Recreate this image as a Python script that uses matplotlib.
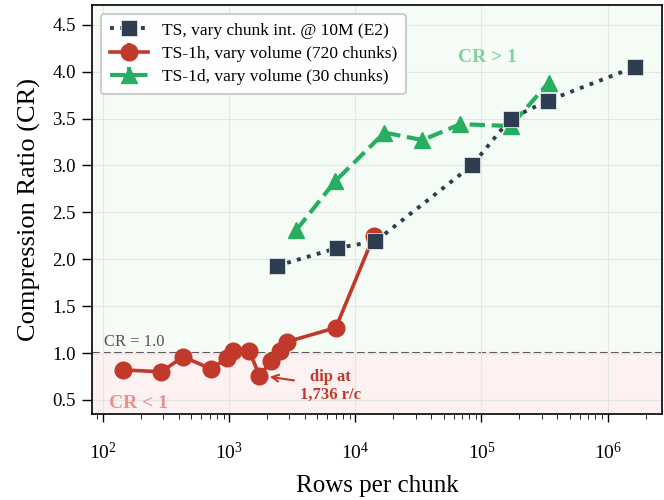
import matplotlib.pyplot as plt

plt.rcParams['font.family'] = 'Liberation Serif'
plt.rcParams['mathtext.fontset'] = 'stix'

# TS, varying chunk interval at 10M rows
ts_rows = [2400, 7200, 14400, 84000, 170000, 336000, 1650000]
ts_cr = [1.93, 2.12, 2.19, 3.00, 3.50, 3.69, 4.05]

# TS-1h, varying volume (720 chunks)
h_rows = [144, 288, 432, 720, 960, 1080, 1440, 1736, 2160, 2520, 2880, 7000, 14000]
h_cr = [0.82, 0.80, 0.96, 0.83, 0.95, 1.02, 1.02, 0.76, 0.91, 1.02, 1.12, 1.27, 2.25]
h_err = [0.01] * len(h_rows)

# TS-1d, varying volume (30 chunks)
d_rows = [3400, 6900, 17000, 34000, 68000, 170000, 340000]
d_cr = [2.31, 2.83, 3.35, 3.27, 3.44, 3.42, 3.88]
d_err = [0.01] * len(d_rows)

navy = '#2c3e50'
red = '#c0392b'
green = '#27ae60'

fig, ax = plt.subplots(figsize=(6.64, 5.0), dpi=100)
fig.subplots_adjust(left=0.139, right=0.997, top=0.99, bottom=0.172)

ax.set_xscale('log')
ax.set_xlim(82, 2.7e6)
ax.set_ylim(0.35, 4.71)

ax.axhspan(1.0, 4.71, color='#f1fbf1', alpha=0.7, zorder=0)
ax.axhspan(0.35, 1.0, color='#fce8e8', alpha=0.6, zorder=0)
ax.axhline(1.0, color='#555555', ls='--', lw=1.5, zorder=1)
ax.grid(True, which='major', color='#e3e6e3', lw=0.8, zorder=0)

ax.plot(ts_rows, ts_cr, ls=':', lw=2.8, color=navy, marker='s', ms=12,
        mec='#dfe3e6', mew=0.6, label='TS, vary chunk int. @ 10M (E2)', zorder=4)
ax.errorbar(h_rows, h_cr, yerr=h_err, ls='-', lw=2.6, color=red, marker='o', ms=12,
            capsize=0, label='TS-1h, vary volume (720 chunks)', zorder=3)
ax.errorbar(d_rows, d_cr, yerr=d_err, ls='--', lw=3.0, color=green, marker='^', ms=12,
            capsize=0, label='TS-1d, vary volume (30 chunks)', zorder=3)

ax.text(102, 1.03, 'CR = 1.0', color='#555555', fontsize=12, va='bottom', ha='left')
ax.text(6.5e4, 4.15, 'CR > 1', color='#7fd1a0', fontsize=14, fontweight='bold',
        ha='left', va='center')
ax.text(112, 0.46, 'CR < 1', color='#e89090', fontsize=14, fontweight='bold',
        ha='left', va='center')
ax.annotate('dip at\n1,736 r/c', xy=(1800, 0.76), xytext=(6300, 0.65),
            color=red, fontsize=12, fontweight='bold', ha='center', va='center',
            arrowprops=dict(arrowstyle='->', color=red, lw=1.5, shrinkB=6))

ax.set_xlabel('Rows per chunk', fontsize=18, labelpad=9)
ax.set_ylabel('Compression Ratio (CR)', fontsize=19, labelpad=8)
ax.set_yticks([0.5, 1.0, 1.5, 2.0, 2.5, 3.0, 3.5, 4.0, 4.5])
ax.tick_params(axis='both', labelsize=13.5, direction='out', length=7, width=1, pad=5)
ax.tick_params(axis='x', which='major', pad=14, labelsize=14, length=6)
ax.tick_params(axis='x', which='minor', length=3.5)
for s in ax.spines.values():
    s.set_linewidth(1.2)
    s.set_color('black')

leg = ax.legend(loc='upper left', fontsize=12.5, frameon=True, fancybox=True,
                edgecolor='#cccccc', framealpha=0.95, borderpad=0.5,
                handlelength=2.2, labelspacing=0.42)
leg.get_frame().set_linewidth(1.5)

plt.savefig('out.png', dpi=100)
plt.close()
